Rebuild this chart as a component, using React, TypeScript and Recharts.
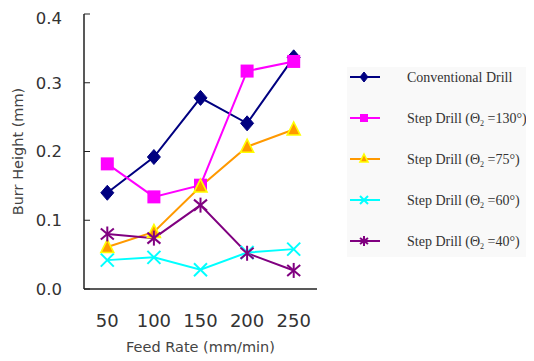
import React from 'react';
import { LineChart, Line, XAxis, YAxis, Legend } from 'recharts';

const feedRates = [50, 100, 150, 200, 250];
const conventional = [0.140, 0.192, 0.278, 0.241, 0.337];
const step130 = [0.182, 0.134, 0.151, 0.317, 0.331];
const step75 = [0.061, 0.083, 0.149, 0.207, 0.232];
const step60 = [0.042, 0.046, 0.028, 0.053, 0.058];
const step40 = [0.080, 0.074, 0.122, 0.052, 0.027];

const yTicks = [0, 0.1, 0.2, 0.3, 0.4];
const xEdgeTicks = [25, 75, 125, 175, 225, 275];

type Kind = 'diamond' | 'square' | 'triangle' | 'x' | 'star';

const series: { key: string; name: string; angle?: string; color: string; kind: Kind; values: number[] }[] = [
  { key: 'conv', name: 'Conventional Drill', color: '#000080', kind: 'diamond', values: conventional },
  { key: 's130', name: 'Step Drill', angle: '130', color: '#FF00FF', kind: 'square', values: step130 },
  { key: 's75', name: 'Step Drill', angle: '75', color: '#FF9900', kind: 'triangle', values: step75 },
  { key: 's60', name: 'Step Drill', angle: '60', color: '#00FFFF', kind: 'x', values: step60 },
  { key: 's40', name: 'Step Drill', angle: '40', color: '#800080', kind: 'star', values: step40 },
];

const data = feedRates.map((rate, i) => {
  const row: Record<string, number> = { rate };
  series.forEach((s) => {
    row[s.key] = s.values[i];
  });
  return row;
});

function Marker({ kind, color, cx, cy, r }: { kind: Kind; color: string; cx: number; cy: number; r: number }) {
  switch (kind) {
    case 'diamond':
      return (
        <polygon
          points={`${cx},${cy - r - 1} ${cx + r},${cy} ${cx},${cy + r + 1} ${cx - r},${cy}`}
          fill={color}
          stroke={color}
          strokeWidth={1}
        />
      );
    case 'square':
      return <rect x={cx - r} y={cy - r} width={2 * r} height={2 * r} fill={color} />;
    case 'triangle':
      return (
        <polygon
          points={`${cx},${cy - r - 1} ${cx + r},${cy + r - 1} ${cx - r},${cy + r - 1}`}
          fill="#FF9900"
          stroke="#FFFF00"
          strokeWidth={1.6}
        />
      );
    case 'x':
      return (
        <g stroke={color} strokeWidth={2}>
          <line x1={cx - r} y1={cy - r} x2={cx + r} y2={cy + r} />
          <line x1={cx - r} y1={cy + r} x2={cx + r} y2={cy - r} />
        </g>
      );
    case 'star':
    default:
      return (
        <g stroke={color} strokeWidth={2}>
          <line x1={cx - r} y1={cy - r + 1} x2={cx + r} y2={cy + r - 1} />
          <line x1={cx - r} y1={cy + r - 1} x2={cx + r} y2={cy - r + 1} />
          <line x1={cx} y1={cy - r - 1} x2={cx} y2={cy + r + 1} />
        </g>
      );
  }
}

const LegendBox = () => (
  <svg width={188} height={195} style={{ display: 'block' }}>
    <rect x={2} y={1} width={186} height={190} fill="#f9f9f9" />
    {series.map((s, i) => {
      const y = 11 + i * 41;
      return (
        <g key={s.key}>
          <line x1={5} y1={y} x2={35} y2={y} stroke={s.color} strokeWidth={2} />
          <Marker kind={s.kind} color={s.color} cx={19} cy={y} r={4} />
          <text
            x={62}
            y={y + 4.5}
            fontFamily="'Liberation Serif', 'DejaVu Serif', serif"
            fontSize={14}
            fill="#333"
          >
            {s.angle ? (
              <>
                {s.name + ' (Θ'}
                <tspan fontSize={8} dy={3}>2</tspan>
                <tspan dy={-3}>{' =' + s.angle + '°)'}</tspan>
              </>
            ) : (
              s.name
            )}
          </text>
        </g>
      );
    })}
  </svg>
);

const axisFont = "'DejaVu Sans', 'Liberation Sans', sans-serif";

export default function App() {
  return (
    <LineChart
      width={526}
      height={353}
      data={data}
      margin={{ top: 6, right: 217, bottom: 0, left: 0 }}
      style={{ background: '#fff' }}
    >
      <XAxis
        xAxisId="a_edge"
        type="number"
        dataKey="rate"
        domain={[25, 275]}
        ticks={xEdgeTicks}
        tick={false}
        tickSize={-5}
        height={1}
        axisLine={{ stroke: '#222', strokeWidth: 1.5 }}
        tickLine={{ stroke: '#222', strokeWidth: 1 }}
      />
      <XAxis
        xAxisId="b_cat"
        type="number"
        dataKey="rate"
        domain={[25, 275]}
        ticks={feedRates}
        axisLine={false}
        tickLine={false}
        tickSize={0}
        tickMargin={24}
        height={71}
        tick={{ fontSize: 18, fill: '#333', fontFamily: axisFont }}
        label={{
          value: 'Feed Rate (mm/min)',
          position: 'insideBottom',
          offset: 9,
          style: { fontSize: 14.5, fill: '#444', fontFamily: axisFont },
        }}
      />
      <YAxis
        type="number"
        domain={[0, 0.4]}
        ticks={yTicks}
        width={76}
        tickSize={-6}
        tickMargin={28}
        tickFormatter={(v: number) => v.toFixed(1)}
        axisLine={{ stroke: '#222', strokeWidth: 1.5 }}
        tickLine={{ stroke: '#222', strokeWidth: 1 }}
        tick={{ fontSize: 16.5, fill: '#333', fontFamily: axisFont }}
        label={{
          value: 'Burr Height (mm)',
          angle: -90,
          position: 'insideLeft',
          offset: 10,
          style: { textAnchor: 'middle', fontSize: 14.5, fill: '#444', fontFamily: axisFont },
        }}
      />
      <Legend
        layout="vertical"
        align="center"
        verticalAlign="middle"
        wrapperStyle={{ left: 337, top: 58, width: 188, height: 195 }}
        content={() => <LegendBox />}
      />
      {series.map((s) => (
        <Line
          key={s.key}
          xAxisId="b_cat"
          dataKey={s.key}
          name={s.name}
          stroke={s.color}
          strokeWidth={2}
          isAnimationActive={false}
          dot={(p: any) => (
            <Marker key={`${s.key}-${p.index}`} kind={s.kind} color={s.color} cx={p.cx} cy={p.cy} r={6.5} />
          )}
          activeDot={false}
        />
      ))}
    </LineChart>
  );
}
